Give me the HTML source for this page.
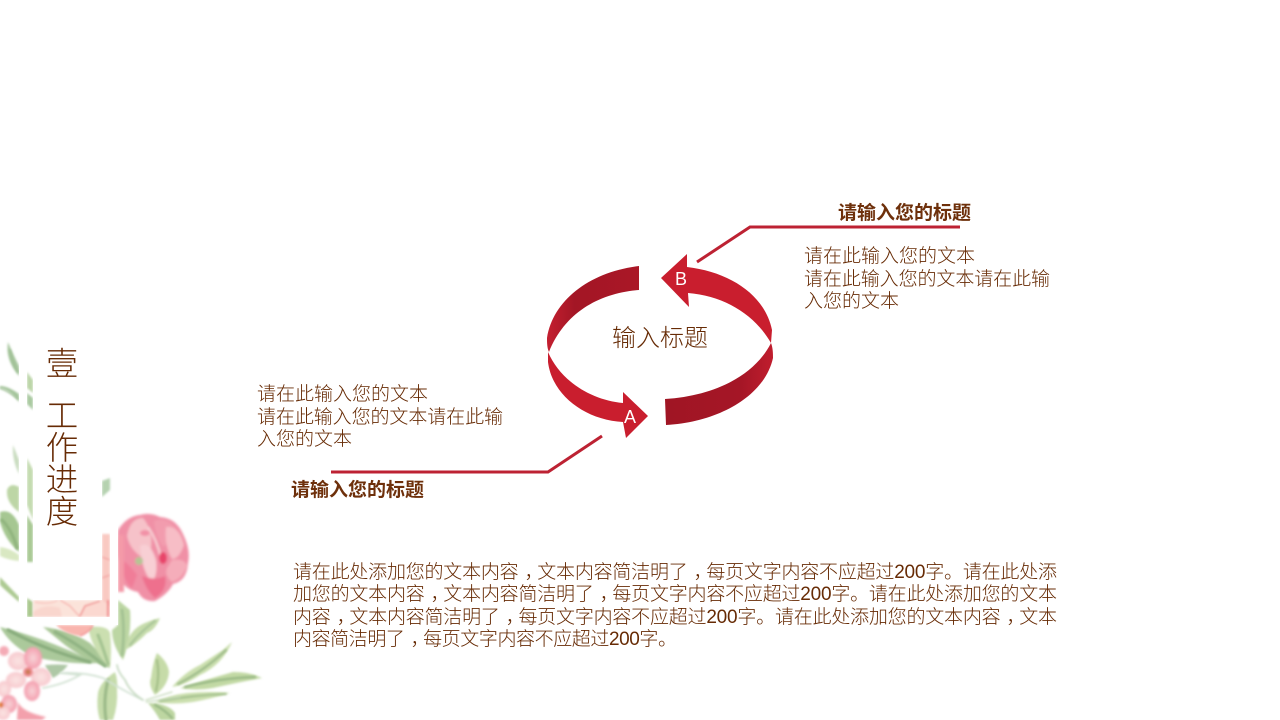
<!DOCTYPE html>
<html lang="zh"><head><meta charset="utf-8"><title>工作进度</title>
<style>
html,body{margin:0;padding:0;background:#fff;width:1280px;height:720px;overflow:hidden}
svg{display:block}
text{font-family:"Liberation Sans","Noto Sans CJK SC",sans-serif;fill:#672b05;font-weight:300}
</style></head><body>
<svg width="1280" height="720" viewBox="0 0 1280 720" xmlns="http://www.w3.org/2000/svg">
<defs>
<linearGradient id="dk1" x1="0" y1="0" x2="1" y2="0"><stop offset="0" stop-color="#c41f30"/><stop offset=".3" stop-color="#a31625"/><stop offset="1" stop-color="#aa1726"/></linearGradient>
<linearGradient id="dk2" x1="0" y1="0" x2="1" y2="0"><stop offset="0" stop-color="#a01524"/><stop offset=".7" stop-color="#a51626"/><stop offset="1" stop-color="#c01d2e"/></linearGradient>
<radialGradient id="pet" cx=".5" cy=".5" r=".6"><stop offset="0" stop-color="#fae4e3"/><stop offset=".75" stop-color="#f8cdd1"/><stop offset="1" stop-color="#f4a5b2"/></radialGradient>
<radialGradient id="pet2" cx=".5" cy=".5" r=".6"><stop offset="0" stop-color="#f8d3d7"/><stop offset=".75" stop-color="#f4a4b3"/><stop offset="1" stop-color="#f08ba0"/></radialGradient>
<filter id="b1" x="-20%" y="-20%" width="140%" height="140%"><feGaussianBlur stdDeviation="1.4"/></filter>
<filter id="b2" x="-20%" y="-20%" width="140%" height="140%"><feGaussianBlur stdDeviation="1"/></filter>
</defs>
<rect width="1280" height="720" fill="#fff"/>

<!-- upper-left leaves -->
<g filter="url(#b2)" fill="#c5dbae">
<path d="M8 342Q5 360 19 376V366Q12 352 8 342Z" fill="#a9c8a0"/>
<path d="M0 388Q10 390 19 402V394Q8 386 0 386Z" fill="#a4c59b"/>
<path d="M27 372L33 380V393L27 388Z" fill="#bcd5a8"/>
<path d="M27 393L33 398V410L27 404Z" fill="#a9c9a0"/>
<path d="M13 445Q12 460 19 474V460Z" fill="#c9dcc0"/>
<path d="M27 458L33 470V520L27 505Z" fill="#c4dbb0"/>
<path d="M7 490Q6 503 19 512V487Q10 482 7 490Z" fill="#bdd6a6"/>
<path d="M0 512Q12 508 19 525V552Q5 540 0 522Z" fill="#a6c792"/>
<path d="M27 515L33 525V562H27Z" fill="#a9c994"/>
<path d="M0 547Q10 548 19 555V561Q8 560 0 556Z" fill="#d9e8c2"/>
<path d="M0 577L19 597V602Q5 590 0 585Z" fill="#adca93"/>
<path d="M102 481L110 478V490L102 497Z" fill="#b5d2b0"/>
<path d="M27 598L33 602V617H27Z" fill="#a9c88e"/>
</g>
<!-- lower leaves -->
<g filter="url(#b2)">
<path d="M0 627Q20 632 43 640Q70 650 97 663Q73 665 33 657Q10 645 0 627Z" fill="#abc99b"/>
<path d="M43 627Q70 630 90 643Q102 655 110 668Q85 660 65 645Z" fill="#aac898"/>
<path d="M88 627Q108 625 110 633Q112 650 110 668Q92 650 88 627Z" fill="#cbdfb0"/>
<path d="M118 600L130 610Q132 635 123 660Q112 645 112 630L118 625Z" fill="#bcd6a3"/>
<path d="M125 650Q128 630 145 623Q152 620 160 618Q155 630 147 633Q135 645 125 650Z" fill="#c6dcab"/>
<path d="M157 653Q168 662 169 672Q168 686 155 695Q148 685 151 678Q153 662 157 653Z" fill="#c6dba8"/>
<path d="M172 687Q185 672 200 665Q215 655 223 650L232 642Q222 665 200 675Q185 685 172 687Z" fill="#cbdfae"/>
<path d="M180 688Q205 680 233 672Q250 672 262 678Q240 682 213 688Q195 691 180 688Z" fill="#c2d9a4"/>
<path d="M155 702Q170 695 187 693Q210 691 230 693Q210 699 193 702Q172 705 155 702Z" fill="#cbdfae"/>
<path d="M148 703Q157 703 163 705Q172 708 175 713V720H160Q155 711 148 703Z" fill="#bdd6a1"/>
<path d="M115 672Q100 682 98 693Q96 708 100 720H113Q118 705 117 690Q118 680 115 672Z" fill="#c6dcab"/>
<path d="M45 665Q58 664 68 665Q62 673 53 678Q48 672 45 665Z" fill="#aec8a6"/>
</g>
<g filter="url(#b2)" fill="none" stroke-linecap="round">
<path d="M8 630Q45 650 90 662" stroke="#87ab7c" stroke-width="3"/>
<path d="M55 632Q80 645 105 666" stroke="#8fb282" stroke-width="3"/>
<path d="M98 635Q104 650 108 664" stroke="#a3c290" stroke-width="3"/>
<path d="M122 610Q125 630 122 655" stroke="#a0bf91" stroke-width="2.5"/>
<path d="M130 645Q140 632 155 621" stroke="#a5c296" stroke-width="2"/>
<path d="M157 660Q160 675 156 691" stroke="#a0bc85" stroke-width="2"/>
<path d="M178 684Q205 670 226 650" stroke="#9ab887" stroke-width="2"/>
<path d="M185 687Q220 678 255 677" stroke="#93b481" stroke-width="2"/>
<path d="M160 701Q195 695 226 694" stroke="#9dbb88" stroke-width="1.8"/>
<path d="M108 680Q103 700 106 720" stroke="#9ab887" stroke-width="3"/>
<path d="M155 705Q165 710 172 718" stroke="#93b481" stroke-width="2"/>
<path d="M2 520Q12 530 17 548" stroke="#8fb37d" stroke-width="3"/>
<path d="M10 350Q12 362 18 372" stroke="#9dbe93" stroke-width="1.6"/>
<path d="M0 388Q10 392 18 399" stroke="#9dbe93" stroke-width="1.4"/>
<path d="M43 688Q65 684 80 675L60 673Q85 672 103 678Q122 690 143 700" stroke="#d2e2d3" stroke-width="1.7"/>
<path d="M117 665Q118 672 125 680Q130 692 143 700" stroke="#c6d9c1" stroke-width="1.7"/>
<path d="M146 700L172 692M146 702L180 697" stroke="#c6daba" stroke-width="1.2"/>
</g>

<!-- petals under frame -->
<g filter="url(#b2)">
<rect x="33" y="600" width="77" height="17" fill="#fbe3da"/>
<rect x="102" y="534" width="8" height="83" fill="#f9c9c2"/>
<path d="M33 612Q45 603 60 608L62 617H33Z" fill="#f9d6cd"/>
<path d="M60 600L70 606L80 617" fill="none" stroke="#f6aaa6" stroke-width="1.2"/>
<path d="M35 602Q50 605 58 600" fill="none" stroke="#f8c0ba" stroke-width="1.2"/>
<path d="M80 617L86 606L102 600L110 606V617Z" fill="#fbd8d0"/>
<path d="M80 616L85 606L100 601" fill="none" stroke="#f08a8a" stroke-width="1.4"/>
<path d="M108 600V617" stroke="#f08488" stroke-width="2"/>
<path d="M102 578L110 575M102 557L110 560" stroke="#f3a3a1" stroke-width="1.3"/>
<path d="M56 625H92Q88 634 80 636Q65 634 56 625Z" fill="#f9b5ae"/>
<path d="M80 636Q90 632 93 625" fill="none" stroke="#f28d90" stroke-width="1.4"/>
</g>

<!-- large peony -->
<g filter="url(#b1)">
<path d="M118 530Q127 516 140 515Q150 512 160 517Q176 518 183 534Q191 550 188 563Q187 581 173 584Q168 594 155 601Q143 602 138 592Q125 590 120 578Q116 555 118 530Z" fill="#f090a6"/>
<path d="M127 536Q130 518 143 518Q153 530 151 548L143 558Q130 550 127 536Z" fill="#f6c2c9"/>
<path d="M154 521Q166 516 176 529Q172 541 163 547Q155 535 154 521Z" fill="#f29cae"/>
<path d="M166 527Q179 525 184 545Q179 559 172 559Q164 545 166 527Z" fill="#f7bdc6"/>
<path d="M172 560Q185 558 187 566Q182 579 172 582Q164 575 167 568Z" fill="#f5adba"/>
<path d="M140 546Q150 540 156 560Q158 575 152 582Q142 572 140 546Z" fill="#f8cfd4"/>
<path d="M148 527Q157 540 161 558" fill="none" stroke="#f8d4d8" stroke-width="2"/>
<path d="M142 576Q146 590 155 598Q168 590 165 576Q155 581 142 576Z" fill="#ee6f8d"/>
<path d="M122 560Q130 565 137 575L132 588Q122 580 122 560Z" fill="#f07d98"/>
<ellipse cx="163" cy="558" rx="4" ry="6" fill="#e8456b"/>
<ellipse cx="145" cy="533" rx="5" ry="3" fill="#f290a6"/>
<ellipse cx="139" cy="561" rx="4" ry="4" fill="#b5c494"/>
<path d="M118 535V592H124V535Z" fill="#f49aa8"/>
</g>

<!-- small flowers -->
<g filter="url(#b1)">
<ellipse cx="18" cy="661" rx="10" ry="9" fill="url(#pet)"/>
<ellipse cx="33" cy="658" rx="9" ry="11" fill="url(#pet2)"/>
<ellipse cx="41" cy="677" rx="10" ry="9" fill="url(#pet)"/>
<ellipse cx="32" cy="691" rx="8" ry="10" fill="url(#pet2)"/>
<ellipse cx="16" cy="680" rx="10" ry="8" fill="url(#pet)"/>
<ellipse cx="28" cy="672" rx="5" ry="5" fill="#ee8a90"/>
<ellipse cx="28" cy="672" rx="2.5" ry="2.5" fill="#c77a50"/>
<ellipse cx="4" cy="651" rx="5" ry="5" fill="#f4aab5"/>
<ellipse cx="4" cy="689" rx="7" ry="8" fill="url(#pet)"/>
<ellipse cx="9" cy="704" rx="8" ry="9" fill="url(#pet2)"/>
<ellipse cx="3" cy="713" rx="7" ry="7" fill="url(#pet)"/>
<path d="M18 702Q22 712 46 717L42 720H17Z" fill="#f3a0ac"/>
<ellipse cx="1" cy="705" rx="2.5" ry="3" fill="#e07a3a"/>
</g>

<!-- white frame -->
<rect x="19" y="340" width="8" height="285" fill="#fff"/>
<rect x="19" y="617" width="99" height="8" fill="#fff"/>
<rect x="110" y="525" width="8" height="100" fill="#fff"/>
<rect x="33" y="340" width="69" height="260" fill="#fff"/>

<!-- cycle arrows -->
<path d="M639 266L639 290C600 293 565 312 549 352C547 348 547 342 547 338C553 300 590 272 639 266Z" fill="url(#dk1)"/>
<path d="M548 352C560 380 590 400 623 403L623 392L648 416L626 438L623 422C585 420 552 395 548 362Z" fill="#c91e2e"/>
<path d="M661 278L687 254L687 267C730 272 765 295 772 330L771 343C755 315 725 296 688 293L689 307Z" fill="#c91e2e"/>
<path d="M665 399C715 396 755 375 771 343C773 348 773 354 773 358C765 395 720 422 666 425Z" fill="url(#dk2)"/>

<text x="630" y="423" font-size="18" text-anchor="middle" style="fill:#fff">A</text>
<text x="681" y="285" font-size="18" text-anchor="middle" style="fill:#fff">B</text>

<!-- connectors -->
<polyline points="697,262 750,227 960,227" fill="none" stroke="#bd2233" stroke-width="3"/>
<polyline points="602,436 548,472 331,472" fill="none" stroke="#bd2233" stroke-width="3"/>

<!-- center label -->
<text x="612" y="346" font-size="24" textLength="96" lengthAdjust="spacing">输入标题</text>

<!-- titles -->
<text x="838" y="219" font-size="19" textLength="133" style="fill:#6e300b;font-weight:700">请输入您的标题</text>
<text x="291" y="496" font-size="19" textLength="133" style="fill:#6e300b;font-weight:700">请输入您的标题</text>

<!-- right text -->
<text x="804" y="262" font-size="19" textLength="171">请在此输入您的文本</text>
<text x="804" y="285" font-size="19" textLength="246">请在此输入您的文本请在此输</text>
<text x="804" y="307" font-size="19" textLength="95">入您的文本</text>

<!-- left text -->
<text x="257" y="400" font-size="19" textLength="171">请在此输入您的文本</text>
<text x="257" y="423" font-size="19" textLength="246">请在此输入您的文本请在此输</text>
<text x="257" y="445" font-size="19" textLength="95">入您的文本</text>

<!-- paragraph -->
<text x="293" y="578" font-size="19" textLength="764">请在此处添加您的文本内容<tspan dx="6">，</tspan><tspan dx="-6">文</tspan>本内容简洁明了<tspan dx="6">，</tspan><tspan dx="-6">每</tspan>页文字内容不应超过200字。请在此处添</text>
<text x="293" y="600" font-size="19" textLength="764">加您的文本内容<tspan dx="6">，</tspan><tspan dx="-6">文</tspan>本内容简洁明了<tspan dx="6">，</tspan><tspan dx="-6">每</tspan>页文字内容不应超过200字。请在此处添加您的文本</text>
<text x="293" y="623" font-size="19" textLength="764">内容<tspan dx="6">，</tspan><tspan dx="-6">文</tspan>本内容简洁明了<tspan dx="6">，</tspan><tspan dx="-6">每</tspan>页文字内容不应超过200字。请在此处添加您的文本内容<tspan dx="6">，</tspan><tspan dx="-6">文</tspan>本</text>
<text x="293" y="645" font-size="19" textLength="384">内容简洁明了<tspan dx="6">，</tspan><tspan dx="-6">每</tspan>页文字内容不应超过200字。</text>

<!-- vertical title -->
<g font-size="32.5" text-anchor="middle">
<text x="62" y="375">壹</text>
<text x="62" y="427">工</text>
<text x="62" y="459">作</text>
<text x="62" y="491">进</text>
<text x="62" y="523">度</text>
</g>
</svg>
</body></html>
